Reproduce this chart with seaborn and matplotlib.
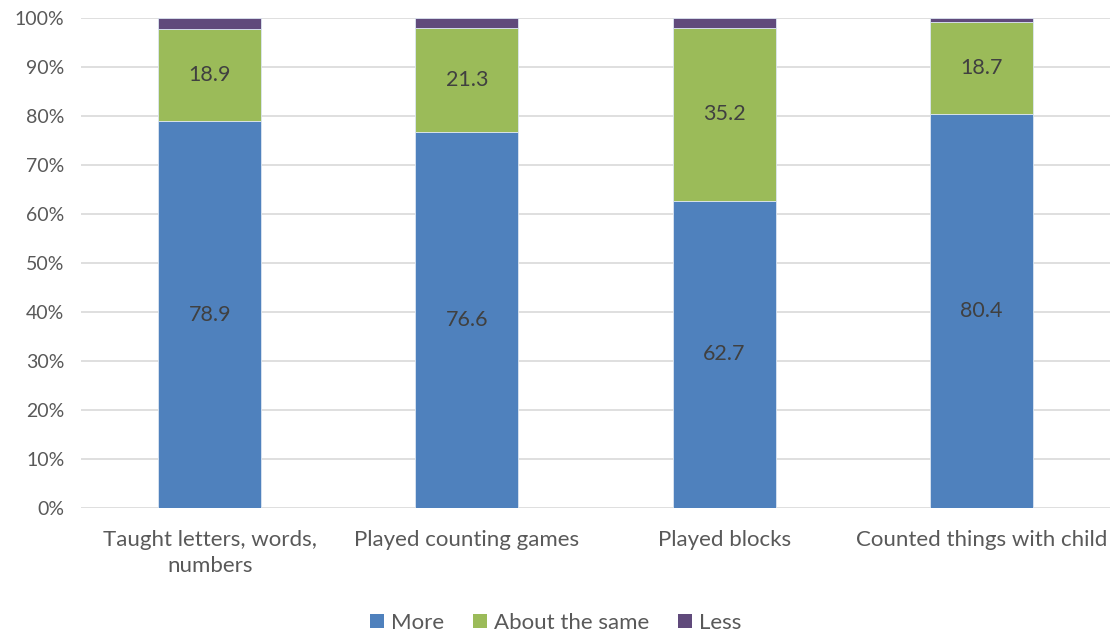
import matplotlib
matplotlib.use("Agg")
import matplotlib.pyplot as plt
import seaborn as sns
import pandas as pd
import numpy as np
from matplotlib.ticker import PercentFormatter
from matplotlib.patches import Patch

categories = ["Taught letters, words,\nnumbers", "Played counting games",
              "Played blocks", "Counted things with child"]
more = [78.9, 76.6, 62.7, 80.4]
same = [18.9, 21.3, 35.2, 18.7]
less = [2.2, 2.1, 2.1, 0.9]
series_names = ["More", "About the same", "Less"]
colors = ["#4F81BD", "#9BBB59", "#604A7B"]

sns.set_theme(style="white")
plt.rcParams["font.family"] = ["Lato", "DejaVu Sans"]

fig = plt.figure(figsize=(11.11, 6.35), dpi=100)
ax = fig.add_axes([0.073, 0.2, 0.926, 0.772])

df = pd.DataFrame({"cat": categories, "More": more,
                   "About the same": same, "Less": less})

bottom = np.zeros(len(categories))
for name, col in zip(series_names, colors):
    sns.barplot(data=df, x="cat", y=name, color=col, bottom=bottom,
                width=0.4, ax=ax, edgecolor="#DCE6F2", linewidth=0.6,
                saturation=1, zorder=3)
    bottom = bottom + df[name].values

# value labels on the two larger segments
base = np.zeros(len(categories))
for name in ["More", "About the same"]:
    vals = df[name].values
    for i, v in enumerate(vals):
        ax.text(i, base[i] + v / 2, f"{v:.1f}", ha="center", va="center",
                fontsize=15.5, color="#404040", zorder=4)
    base = base + vals

ax.set_ylim(0, 100)
ax.set_xlim(-0.5, 3.5)
ax.set_yticks(np.arange(0, 101, 10))
ax.yaxis.set_major_formatter(PercentFormatter(decimals=0))
ax.grid(axis="y", color="#D9D9D9", linewidth=1.2, zorder=0)
ax.set_axisbelow(True)
for s in ax.spines.values():
    s.set_visible(False)
ax.set_xlabel("")
ax.set_ylabel("")
ax.tick_params(axis="both", length=0, labelcolor="#595959")
ax.tick_params(axis="y", labelsize=14, pad=12)
ax.tick_params(axis="x", labelsize=16, pad=16)
for lbl in ax.get_xticklabels():
    lbl.set_linespacing(1.35)

handles = [Patch(facecolor=c, edgecolor="none") for c in colors]
fig.legend(handles, series_names, loc="lower center", ncol=3,
           bbox_to_anchor=(0.5, -0.028), frameon=False, fontsize=16,
           labelcolor="#595959", handlelength=0.65, handleheight=0.65,
           handletextpad=0.3, columnspacing=1.3)

fig.savefig("out.png", dpi=100)
